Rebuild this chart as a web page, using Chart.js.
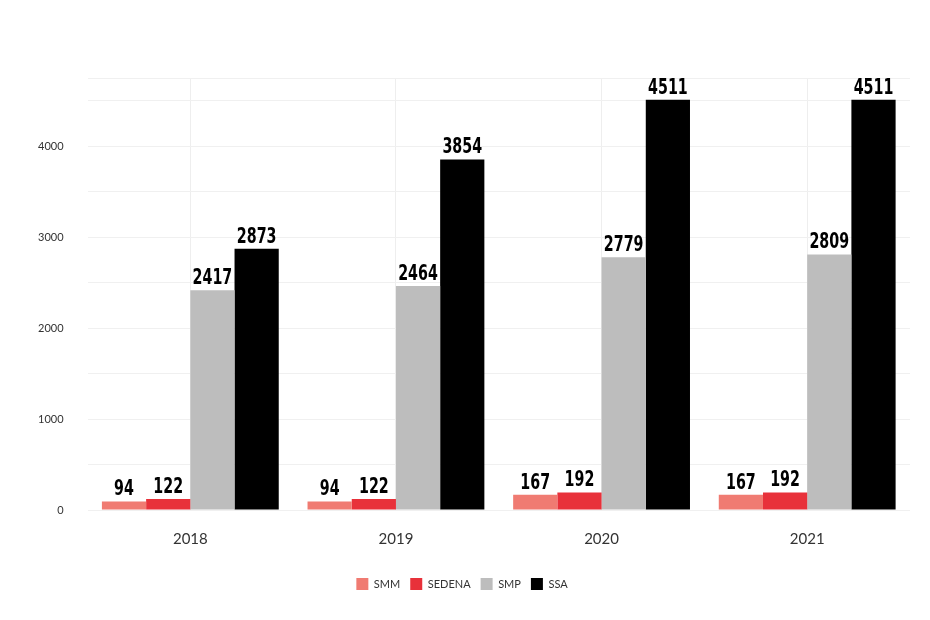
<!DOCTYPE html>
<html><head><meta charset="utf-8">
<script src="https://cdn.jsdelivr.net/npm/chart.js@4"></script>
<style>html,body{margin:0;background:#fff}#w{width:930px;height:620px}</style>
</head><body><div id="w"><canvas id="c"></canvas></div>
<script>
const categories=["2018","2019","2020","2021"];
const smm=[94,94,167,167];
const sedena=[122,122,192,192];
const smp=[2417,2464,2779,2809];
const ssa=[2873,3854,4511,4511];
const tickValues=[0,500,1000,1500,2000,2500,3000,3500,4000,4500,4750];
const labelPlugin={id:"lbl",afterDatasetsDraw(ch){const c=ch.ctx;c.save();c.font="bold 21px 'DejaVu Sans',sans-serif";c.fillStyle="#000";c.textAlign="center";c.textBaseline="bottom";
ch.data.datasets.forEach((d,i)=>{ch.getDatasetMeta(i).data.forEach((b,j)=>{c.save();c.translate(b.x,b.y-1);c.scale(0.68,1);c.fillText(d.data[j],0,0);c.restore();});});c.restore();}};
new Chart(document.getElementById("c"),{type:"bar",
data:{labels:categories,datasets:[
{label:"SMM",data:smm,backgroundColor:"#f07b72"},
{label:"SEDENA",data:sedena,backgroundColor:"#e8313a"},
{label:"SMP",data:smp,backgroundColor:"#bdbdbd"},
{label:"SSA",data:ssa,backgroundColor:"#000"}]},
options:{responsive:true,maintainAspectRatio:false,animation:false,
layout:{padding:{top:78,right:20,left:14,bottom:20}},
datasets:{bar:{categoryPercentage:0.86,barPercentage:1}},
plugins:{legend:{position:"bottom",labels:{boxWidth:12,boxHeight:12,padding:10,color:"#333",font:{size:11,family:"Lato"}}},tooltip:{enabled:false}},
scales:{x:{grid:{offset:false,color:"#eee",drawTicks:false},border:{display:false},ticks:{color:"#333",padding:20,font:{size:15,family:"Lato"}}},
y:{min:0,max:4750,afterBuildTicks:s=>{s.ticks=tickValues.map(v=>({value:v}));},ticks:{color:"#333",padding:24,font:{size:11,family:"Lato"},callback:v=>v%1000===0?String(v):""},grid:{color:"#f0f0f0",drawTicks:false},border:{display:false}}}},
plugins:[labelPlugin]});
</script></body></html>
